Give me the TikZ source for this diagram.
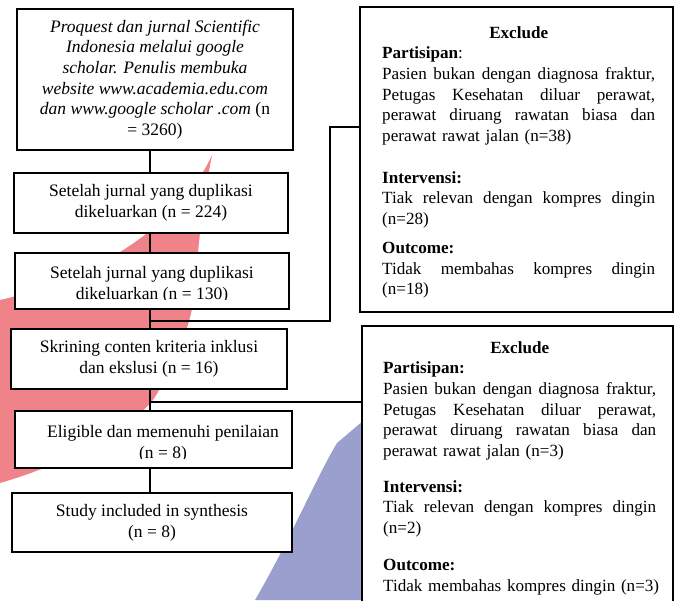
\documentclass[tikz,border=0pt]{standalone}
\usepackage{fontspec}
\setmainfont{Liberation Serif}
\newlength\exw \setlength\exw{273pt}
\newcommand\jline[1]{\makebox[\exw]{#1}}
\definecolor{redbg}{RGB}{240,130,137}
\definecolor{bluebg}{RGB}{154,159,205}
\begin{document}
\begin{tikzpicture}[x=1pt,y=-1pt,
 box/.style={draw, line width=1.3pt, fill=white, inner sep=0pt},
 txt/.style={align=center, font=\fontsize{17.5}{20.7}\selectfont, inner sep=0pt},
 extxt/.style={text width=\exw, align=left, font=\fontsize{17.1}{20.7}\selectfont, inner sep=0pt, anchor=north west},
 conn/.style={line width=1.3pt}]
\useasboundingbox (0,0) rectangle (683,600);
\clip (0,0) rectangle (683,600);
% background shapes
\fill[redbg] (212,155) .. controls (185,215) and (110,275) .. (0,300) -- (0,483)
  .. controls (80,460) and (140,420) .. (155,397)
  .. controls (180,355) and (192,320) .. (195,290)
  .. controls (198,240) and (205,190) .. (212,155) -- cycle;
\fill[bluebg] (337,443) .. controls (315,480) and (290,540) .. (255,600) -- (420,600) -- (420,400) -- (370,415) -- cycle;
% left boxes
\node[box, txt, minimum width=276pt, minimum height=141pt] (b1) at (155,79.5)
 {\textit{Proquest dan jurnal Scientific}\\ \textit{Indonesia melalui google}\\ \textit{scholar. Penulis membuka}\\ \textit{website www.academia.edu.com}\\ \textit{dan www.google scholar .com} (n\\ = 3260)};
\node[box, txt, minimum width=274pt, minimum height=60pt] (b2) at (151,203)
 {Setelah jurnal yang duplikasi\\ dikeluarkan (n = 224)};
\node[box, minimum width=274pt, minimum height=56pt] (b3) at (152,281) {};
\begin{scope}
 \clip (b3.north west) rectangle ([yshift=10pt]b3.south east);
 \node[txt] (t3) at (152,285) {Setelah jurnal yang duplikasi\\ dikeluarkan (n = 130)};
\end{scope}
\node[box, txt, minimum width=276pt, minimum height=60pt] (b4) at (149,359)
 {Skrining conten kriteria inklusi\\ dan ekslusi (n = 16)};
\node[box, minimum width=277pt, minimum height=57pt] (b5) at (153.5,439.5) {};
\begin{scope}
 \clip (b5.north west) rectangle ([yshift=10pt]b5.south east);
 \node[txt] (t5) at (163,443.5) {Eligible dan memenuhi penilaian\\ (n = 8)};
\end{scope}
\node[box, txt, minimum width=280pt, minimum height=59pt] (b6) at (152,522.5)
 {Study included in synthesis\\ (n = 8)};
% exclude boxes
\node[box, minimum width=313pt, minimum height=305pt] (e1) at (516.5,159.5) {};
\node[extxt] (e1t) at (382,26) {%
\makebox[\exw][c]{\textbf{Exclude}}\\
\textbf{Partisipan}:\\
\jline{Pasien\hfill bukan\hfill dengan\hfill diagnosa\hfill fraktur,}\\
\jline{Petugas\hfill Kesehatan\hfill diluar\hfill perawat,}\\
\jline{perawat\hfill diruang\hfill rawatan\hfill biasa\hfill dan}\\
perawat rawat jalan (n=38)\\[21pt]
\textbf{Intervensi:}\\
\jline{Tiak\hfill relevan\hfill dengan\hfill kompres\hfill dingin}\\
(n=28)\\[8pt]
\textbf{Outcome:}\\
\jline{Tidak\hfill membahas\hfill kompres\hfill dingin}\\
(n=18)};
\node[box, minimum width=311pt, minimum height=286pt] (e2) at (517.5,469) {};
\node[extxt] (e2t) at (383,341) {%
\makebox[\exw][c]{\textbf{Exclude}}\\
\textbf{Partisipan:}\\
\jline{Pasien\hfill bukan\hfill dengan\hfill diagnosa\hfill fraktur,}\\
\jline{Petugas\hfill Kesehatan\hfill diluar\hfill perawat,}\\
\jline{perawat\hfill diruang\hfill rawatan\hfill biasa\hfill dan}\\
perawat rawat jalan (n=3)\\[15pt]
\textbf{Intervensi:}\\
\jline{Tiak\hfill relevan\hfill dengan\hfill kompres\hfill dingin}\\
(n=2)\\[16pt]
\textbf{Outcome:}\\
\makebox[\exw][l]{Tidak membahas kompres dingin (n=3)}};
% connectors
\coordinate (sp) at (150,0);
\draw[conn] (sp |- b1.south) -- (sp |- b2.north);
\draw[conn] (sp |- b2.south) -- (sp |- b3.north);
\draw[conn] (sp |- b3.south) -- (sp |- b4.north);
\draw[conn] (sp |- b4.south) -- (sp |- b5.north);
\draw[conn] (sp |- b5.south) -- (sp |- b6.north);
\coordinate (j1) at (150,321);
\coordinate (k1) at (330,321);
\coordinate (k2) at (330,127);
\draw[conn] (j1) -- (k1) -- (k2) -- (k2 -| e1.west);
\coordinate (j2) at (150,402);
\draw[conn] (j2) -- (j2 -| e2.west);
\end{tikzpicture}
\end{document}
